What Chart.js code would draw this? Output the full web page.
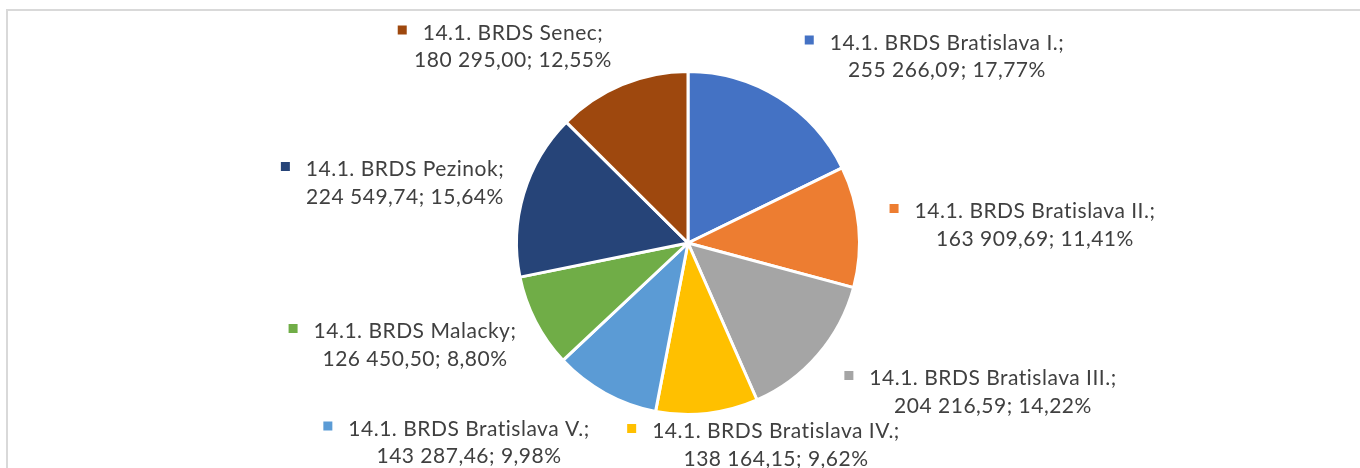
<!DOCTYPE html>
<html>
<head>
<meta charset="utf-8">
<script src="https://cdn.jsdelivr.net/npm/chart.js@4/dist/chart.umd.min.js"></script>
<style>
  html, body { margin: 0; padding: 0; background: #ffffff; }
  #wrap { width: 1360px; height: 468px; position: relative; }
</style>
</head>
<body>
<div id="wrap"><canvas id="c" width="1360" height="468"></canvas></div>
<script>
const categories = [
  "14.1. BRDS Bratislava I.",
  "14.1. BRDS Bratislava II.",
  "14.1. BRDS Bratislava III.",
  "14.1. BRDS Bratislava IV.",
  "14.1. BRDS Bratislava V.",
  "14.1. BRDS Malacky",
  "14.1. BRDS Pezinok",
  "14.1. BRDS Senec"
];
const values = [255266.09, 163909.69, 204216.59, 138164.15, 143287.46, 126450.50, 224549.74, 180295.00];
const colors = ["#4472C4", "#ED7D31", "#A5A5A5", "#FFC000", "#5B9BD5", "#70AD47", "#264478", "#9E480E"];

function fmtNum(v) {
  const parts = v.toFixed(2).split(".");
  const intPart = parts[0].replace(/\B(?=(\d{3})+(?!\d))/g, " ");
  return intPart + "," + parts[1];
}
const total = values.reduce((a, b) => a + b, 0);
function fmtPct(v) { return (v / total * 100).toFixed(2).replace(".", ",") + "%"; }

const FONT_SIZE = 21;
const FONT = FONT_SIZE + "px Lato, 'Open Sans', sans-serif";

const labelPlugin = {
  id: "excelLabels",
  afterDatasetsDraw(chart, args, opts) {
    const ctx = chart.ctx;
    const meta = chart.getDatasetMeta(0);
    ctx.save();
    ctx.font = FONT;
    if ("letterSpacing" in ctx) ctx.letterSpacing = "0.5px";
    ctx.fillStyle = "#404040";
    ctx.textAlign = "center";
    ctx.textBaseline = "alphabetic";
    meta.data.forEach((arc, i) => {
      const off = opts.offsets[i];
      const cx = arc.x + off[0];
      const cy1 = arc.y + off[1];
      const cy2 = cy1 + opts.lineGap;
      const l1 = categories[i] + ";";
      const l2 = fmtNum(values[i]) + "; " + fmtPct(values[i]);
      const shift = FONT_SIZE * 0.36;
      ctx.fillText(l1, cx, cy1 + shift);
      ctx.fillText(l2, cx, cy2 + shift);
      const w1 = ctx.measureText(l1).width;
      const ms = 9;
      ctx.fillStyle = colors[i];
      ctx.fillRect(cx - w1 / 2 - 16 - ms, cy1 - 2 - ms / 2, ms, ms);
      ctx.fillStyle = "#404040";
    });
    ctx.restore();
  }
};

const framePlugin = {
  id: "frame",
  beforeDraw(chart) {
    const ctx = chart.ctx;
    ctx.save();
    ctx.fillStyle = "#ffffff";
    ctx.fillRect(0, 0, chart.width, chart.height);
    ctx.strokeStyle = "#D9D9D9";
    ctx.lineWidth = 2;
    ctx.beginPath();
    ctx.moveTo(7, chart.height + 5);
    ctx.lineTo(7, 10);
    ctx.lineTo(chart.width + 5, 10);
    ctx.stroke();
    ctx.restore();
  }
};

new Chart(document.getElementById("c"), {
  type: "pie",
  data: {
    labels: categories,
    datasets: [{
      data: values,
      backgroundColor: colors,
      borderColor: "#ffffff",
      borderWidth: 3
    }]
  },
  options: {
    responsive: false,
    animation: false,
    layout: { padding: { top: 70, bottom: 52, left: 16, right: 0 } },
    plugins: {
      legend: { display: false },
      tooltip: { enabled: false },
      excelLabels: {
        lineGap: 27.5,
        offsets: [
          [259, -201],
          [347, -32.5],
          [305, 134.5],
          [88, 187.5],
          [-219, 185],
          [-273, 87.5],
          [-283, -74.5],
          [-175, -211]
        ]
      }
    }
  },
  plugins: [framePlugin, labelPlugin]
});
</script>
</body>
</html>
